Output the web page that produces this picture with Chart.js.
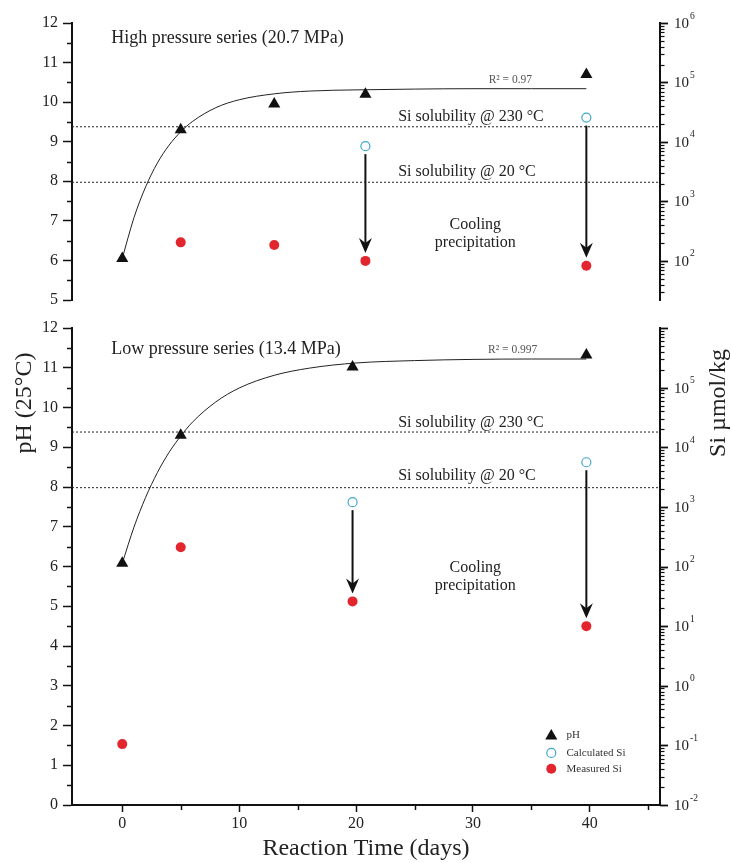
<!DOCTYPE html>
<html>
<head>
<meta charset="utf-8">
<script src="https://cdn.jsdelivr.net/npm/chart.js@4.4.0/dist/chart.umd.min.js"></script>
<style>
  html, body { margin: 0; padding: 0; background: #fff; }
  #wrap { position: relative; width: 731px; height: 863px; }
  #wrap canvas { position: absolute; left: 0; top: 0; }
</style>
</head>
<body>
<div id="wrap">
  <canvas id="lowChart" width="731" height="863"></canvas>
  <canvas id="highChart" width="731" height="863"></canvas>
</div>
<script>
// Values
const dayMin = -4.3;
const dayMax = 46;
const dayTicks = [0, 10, 20, 30, 40];
const dayMinorTicks = [5, 15, 25, 35, 45];

// High pressure series (20.7 MPa)
const hpDays = [0, 5, 13, 20.8, 39.7];
const hpPH = [6.05, 9.3, 9.95, 10.2, 10.7];
const hpFitDays = [0, 1, 2, 3, 4, 5, 6, 8, 10, 13, 16, 20, 25, 30, 35, 39.7];
const hpFitPH = [6.05, 7.08, 7.86, 8.46, 8.91, 9.25, 9.51, 9.86, 10.06, 10.21, 10.28, 10.31, 10.33, 10.34, 10.34, 10.34];
const hpMeasDays = [5, 13, 20.8, 39.7];
const hpMeasSi = [205, 185, 100, 83];
const hpCalcDays = [20.8, 39.7];
const hpCalcSi = [8500, 25700];

// Low pressure series (13.4 MPa)
const lpDays = [0, 5, 19.7, 39.7];
const lpPH = [6.08, 9.3, 11.02, 11.32];
const lpFitDays = [0, 1, 2, 3, 4, 5, 6, 8, 10, 13, 16, 20, 25, 30, 35, 39.7];
const lpFitPH = [6.08, 6.99, 7.74, 8.36, 8.87, 9.28, 9.63, 10.14, 10.49, 10.81, 10.99, 11.12, 11.18, 11.21, 11.22, 11.22];
const lpMeasDays = [0, 5, 19.7, 39.7];
const lpMeasSi = [0.105, 210, 26, 10];
const lpCalcDays = [19.7, 39.7];
const lpCalcSi = [1200, 5600];

// Si solubility levels (umol/kg)
const sol230Si = 18000;
const sol20Si = 2100;

// right axis decade labels (exponents)
const hpSiExponents = [2, 3, 4, 5, 6];
const lpSiExponents = [-2, -1, 0, 1, 2, 3, 4, 5];

const legendLabels = ['pH', 'Calculated Si', 'Measured Si'];

const SERIF = '"Liberation Serif", "DejaVu Serif", serif';
Chart.defaults.font.family = SERIF;
Chart.defaults.color = '#222';

const AXIS = '#111';
const RED = '#e3262d';
const CYAN = '#3ea7cc';

const pts = (xs, ys) => xs.map((x, i) => ({ x: x, y: ys[i] }));
const font = (size) => `${size}px ${SERIF}`;

function triangle(ctx, x, y, rad) {
  ctx.beginPath();
  for (let k = 0; k < 3; k++) {
    const a = k * 2 * Math.PI / 3;
    const px = x + Math.sin(a) * rad, py = y - Math.cos(a) * rad;
    if (k === 0) ctx.moveTo(px, py); else ctx.lineTo(px, py);
  }
  ctx.closePath();
  ctx.fill();
}

// Ticks, log labels, arrows and text drawn from the chart's scales
const decorPlugin = {
  id: 'decor',
  afterDraw(chart, args, opts) {
    const { ctx, chartArea: ca, scales } = chart;
    const x = scales.x, ph = scales.ph, si = scales.si;
    ctx.save();
    ctx.strokeStyle = AXIS;
    ctx.fillStyle = '#222';
    ctx.lineWidth = 1.5;

    // minor ticks on pH axis
    for (let v = ph.min + 0.5; v < ph.max; v += 1) {
      const py = Math.round(ph.getPixelForValue(v)) + 0.5;
      ctx.beginPath(); ctx.moveTo(ca.left - 5, py); ctx.lineTo(ca.left, py); ctx.stroke();
    }

    // log ticks on Si axis
    const lo = Math.floor(Math.log10(si.min)), hi = Math.ceil(Math.log10(si.max));
    for (let d = lo; d <= hi; d++) {
      for (let m = 1; m < 10; m++) {
        const v = m * Math.pow(10, d);
        if (v < si.min * 0.999 || v > si.max * 1.001) continue;
        const py = Math.round(si.getPixelForValue(v)) + 0.5;
        ctx.lineWidth = m === 1 ? 1.8 : 1.2;
        ctx.beginPath(); ctx.moveTo(ca.right, py); ctx.lineTo(ca.right + (m === 1 ? 8 : 4.5), py); ctx.stroke();
      }
    }
    ctx.textBaseline = 'middle';
    ctx.textAlign = 'left';
    opts.exponents.forEach(e => {
      const py = si.getPixelForValue(Math.pow(10, e));
      ctx.font = font(15);
      ctx.fillText('10', ca.right + 14, py + 1);
      const w = ctx.measureText('10').width;
      ctx.font = font(9.5);
      ctx.fillText(String(e), ca.right + 15 + w, py - 7);
    });

    // minor day ticks
    if (opts.showX) {
      ctx.lineWidth = 1.5;
      dayMinorTicks.forEach(v => {
        const px = Math.round(x.getPixelForValue(v)) + 0.5;
        ctx.beginPath(); ctx.moveTo(px, ca.bottom); ctx.lineTo(px, ca.bottom + 5); ctx.stroke();
      });
    }

    // cooling arrows: calculated Si -> measured Si
    ctx.fillStyle = AXIS;
    opts.calcDays.forEach((d, i) => {
      const j = opts.measDays.indexOf(d);
      if (j < 0) return;
      const px = x.getPixelForValue(d);
      const y0 = si.getPixelForValue(opts.calcSi[i]) + 8;
      const tip = si.getPixelForValue(opts.measSi[j]) - 8;
      ctx.lineWidth = 2;
      ctx.beginPath(); ctx.moveTo(px, y0); ctx.lineTo(px, tip - 8); ctx.stroke();
      ctx.beginPath();
      ctx.moveTo(px, tip);
      ctx.lineTo(px - 6.5, tip - 15);
      ctx.lineTo(px, tip - 10);
      ctx.lineTo(px + 6.5, tip - 15);
      ctx.closePath();
      ctx.fill();
    });

    // text notes placed in data units
    opts.notes.forEach(n => {
      ctx.font = font(n.size);
      ctx.fillStyle = n.color || '#222';
      ctx.textAlign = n.align || 'left';
      ctx.fillText(n.text, x.getPixelForValue(n.x), ph.getPixelForValue(n.y));
    });

    // legend
    if (opts.legend) {
      const L = opts.legend;
      const mx = x.getPixelForValue(L.markerX), tx = x.getPixelForValue(L.textX);
      L.rows.forEach((ry, k) => {
        const py = ph.getPixelForValue(ry);
        if (k === 0) { ctx.fillStyle = AXIS; triangle(ctx, mx, py + 1, 7); }
        if (k === 1) {
          ctx.fillStyle = '#fff'; ctx.strokeStyle = CYAN; ctx.lineWidth = 1.2;
          ctx.beginPath(); ctx.arc(mx, py, 4.5, 0, 2 * Math.PI); ctx.fill(); ctx.stroke();
        }
        if (k === 2) {
          ctx.fillStyle = RED;
          ctx.beginPath(); ctx.arc(mx, py, 5, 0, 2 * Math.PI); ctx.fill();
        }
        ctx.fillStyle = '#333';
        ctx.font = font(11);
        ctx.textAlign = 'left';
        ctx.fillText(legendLabels[k], tx, py);
      });
    }

    // shared axis titles
    if (opts.axisTitles) {
      ctx.fillStyle = '#222';
      ctx.textAlign = 'center';
      ctx.font = font(24);
      ctx.save(); ctx.translate(25, 403); ctx.rotate(-Math.PI / 2); ctx.fillText('pH (25°C)', 0, 0); ctx.restore();
      ctx.save(); ctx.translate(719, 403); ctx.rotate(-Math.PI / 2); ctx.fillText('Si µmol/kg', 0, 0); ctx.restore();
    }
    ctx.restore();
  }
};

function panel(p) {
  return {
    type: 'scatter',
    data: {
      datasets: [
        { label: legendLabels[0], data: pts(p.days, p.ph), yAxisID: 'ph', pointStyle: 'triangle', pointRadius: 7,
          backgroundColor: AXIS, borderColor: AXIS, borderWidth: 0, order: 1 },
        { label: legendLabels[1], data: pts(p.calcDays, p.calcSi), yAxisID: 'si', pointRadius: 4.5,
          backgroundColor: '#fff', borderColor: CYAN, borderWidth: 1.2, order: 2 },
        { label: legendLabels[2], data: pts(p.measDays, p.measSi), yAxisID: 'si', pointRadius: 5,
          backgroundColor: RED, borderColor: RED, borderWidth: 0, order: 3 },
        { label: 'fit', data: pts(p.fitDays, p.fitPH), yAxisID: 'ph', showLine: true, pointRadius: 0,
          borderColor: '#222', borderWidth: 1, cubicInterpolationMode: 'monotone', order: 4 },
        { label: 'Si solubility 230', data: pts([dayMin, dayMax], [sol230Si, sol230Si]), yAxisID: 'si', showLine: true,
          pointRadius: 0, borderColor: '#222', borderWidth: 1, borderDash: [2, 2], order: 5 },
        { label: 'Si solubility 20', data: pts([dayMin, dayMax], [sol20Si, sol20Si]), yAxisID: 'si', showLine: true,
          pointRadius: 0, borderColor: '#222', borderWidth: 1, borderDash: [2, 2], order: 6 }
      ]
    },
    options: {
      responsive: false,
      animation: false,
      events: [],
      layout: { padding: { top: p.padTop, bottom: p.padBottom, left: 0, right: 0 } },
      plugins: { legend: { display: false }, tooltip: { enabled: false }, decor: p.decor },
      scales: {
        x: {
          type: 'linear', min: dayMin, max: dayMax, display: p.showX,
          afterBuildTicks: s => { s.ticks = dayTicks.map(v => ({ value: v })); },
          afterFit: s => { s.height = p.showX ? 58 : 0; },
          grid: { drawOnChartArea: false, tickLength: 7, tickColor: AXIS, tickWidth: 1.5 },
          border: { display: true, width: 2, color: AXIS },
          ticks: { font: { size: 16 }, color: '#222', padding: 2, maxRotation: 0 },
          title: { display: true, text: 'Reaction Time (days)', font: { size: 24 }, color: '#222', padding: 0 }
        },
        ph: {
          axis: 'y', type: 'linear', position: 'left', min: p.phMin, max: 12,
          afterFit: s => { s.width = 72; },
          ticks: { stepSize: 1, font: { size: 16 }, color: '#222', padding: 5 },
          grid: { drawOnChartArea: false, tickLength: 9, tickColor: AXIS, tickWidth: 1.5 },
          border: { display: true, width: 2, color: AXIS }
        },
        si: {
          axis: 'y', type: 'logarithmic', position: 'right', min: p.siMin, max: 1e6,
          afterFit: s => { s.width = 71; },
          ticks: { display: false },
          grid: { display: false },
          border: { display: true, width: 2, color: AXIS }
        }
      }
    },
    plugins: [decorPlugin]
  };
}

new Chart(document.getElementById('highChart'), panel({
  days: hpDays, ph: hpPH, fitDays: hpFitDays, fitPH: hpFitPH,
  measDays: hpMeasDays, measSi: hpMeasSi, calcDays: hpCalcDays, calcSi: hpCalcSi,
  phMin: 5, siMin: 22, showX: false, padTop: 23, padBottom: 563,
  decor: {
    exponents: hpSiExponents, showX: false, axisTitles: false,
    measDays: hpMeasDays, measSi: hpMeasSi, calcDays: hpCalcDays, calcSi: hpCalcSi,
    notes: [
      { text: 'High pressure series (20.7 MPa)', x: -0.94, y: 11.62, size: 18 },
      { text: 'R² = 0.97', x: 33.2, y: 10.56, size: 11.5, align: 'center', color: '#555' },
      { text: 'Si solubility @ 230 °C', x: 23.6, y: 9.63, size: 16 },
      { text: 'Si solubility @ 20 °C', x: 23.6, y: 8.24, size: 16 },
      { text: 'Cooling', x: 30.2, y: 6.9, size: 16, align: 'center' },
      { text: 'precipitation', x: 30.2, y: 6.44, size: 16, align: 'center' }
    ]
  }
}));

new Chart(document.getElementById('lowChart'), panel({
  days: lpDays, ph: lpPH, fitDays: lpFitDays, fitPH: lpFitPH,
  measDays: lpMeasDays, measSi: lpMeasSi, calcDays: lpCalcDays, calcSi: lpCalcSi,
  phMin: 0, siMin: 0.01, showX: true, padTop: 328, padBottom: 0,
  decor: {
    exponents: lpSiExponents, showX: true, axisTitles: true,
    measDays: lpMeasDays, measSi: lpMeasSi, calcDays: lpCalcDays, calcSi: lpCalcSi,
    notes: [
      { text: 'Low pressure series (13.4 MPa)', x: -0.94, y: 11.47, size: 18 },
      { text: 'R² = 0.997', x: 33.4, y: 11.45, size: 11.5, align: 'center', color: '#555' },
      { text: 'Si solubility @ 230 °C', x: 23.6, y: 9.61, size: 16 },
      { text: 'Si solubility @ 20 °C', x: 23.6, y: 8.28, size: 16 },
      { text: 'Cooling', x: 30.2, y: 5.96, size: 16, align: 'center' },
      { text: 'precipitation', x: 30.2, y: 5.51, size: 16, align: 'center' }
    ],
    legend: { markerX: 36.7, textX: 38.0, rows: [1.76, 1.31, 0.91] }
  }
}));
</script>
</body>
</html>
